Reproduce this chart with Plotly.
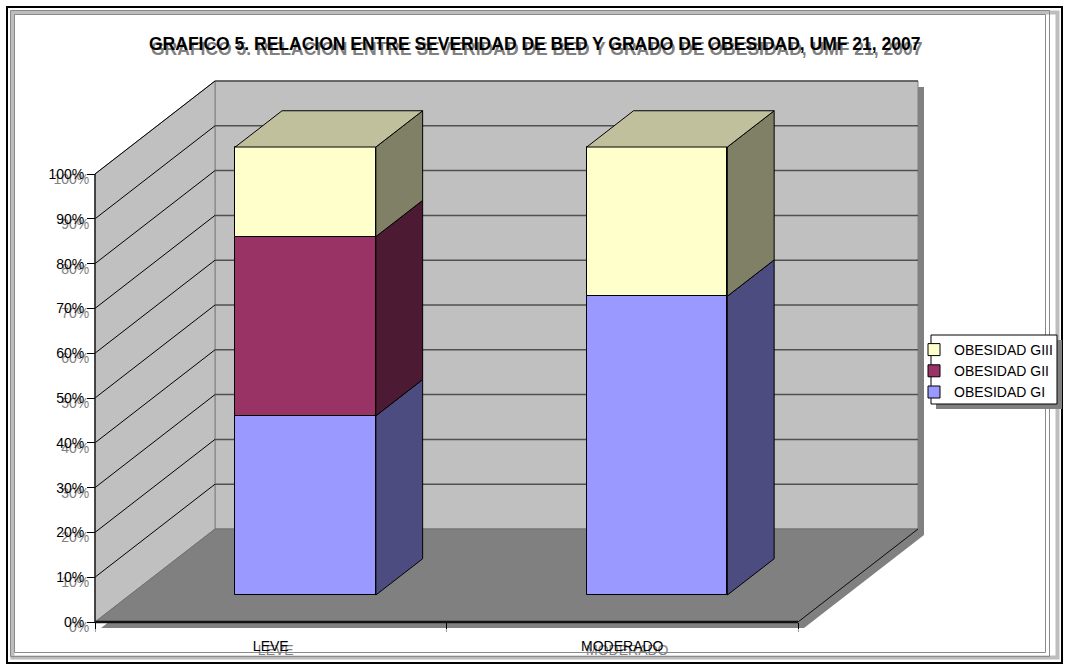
import plotly.graph_objects as go

# ---------------- data ----------------
categories = ["LEVE", "MODERADO"]
series_names = ["OBESIDAD GI", "OBESIDAD GII", "OBESIDAD GIII"]
obesidad_gi = [40.0, 66.7]
obesidad_gii = [40.0, 0.0]
obesidad_giii = [20.0, 33.3]
y_tick_values = [0, 10, 20, 30, 40, 50, 60, 70, 80, 90, 100]
y_tick_labels = ["0%", "10%", "20%", "30%", "40%", "50%", "60%", "70%", "80%", "90%", "100%"]
title_text = "GRAFICO 5. RELACION ENTRE SEVERIDAD DE BED Y GRADO DE OBESIDAD, UMF 21, 2007"

# ---------------- styles / layout constants ----------------
front_colors = ["#9999FF", "#993366", "#FFFFCC"]
side_colors = ["#4C4C80", "#4D1A33", "#808066"]
top_color = "#C0C09C"
wall_color = "#C0C0C0"
floor_color = "#808080"
shadow_color = "#808080"
FONT = "Arial, Liberation Sans, sans-serif"

W, H = 1065, 672
L, R, T, B = 88, 932, 70, 630          # plot-area pixel frame
X0PX, Y0PX = 95, 622                    # pixel of (x=-0.5, y=0) on the front plane
PXX, PXY = 351.5, 4.48                  # px per category unit / per percent
DX, DY = 120 / PXX, 93 / PXY            # oblique depth offset (full depth)
D0, D1 = 0.29, 0.68                     # bar depth span
HALF = 0.2                              # half bar width

x_range = [-0.5 - (X0PX - L) / PXX, -0.5 + (R - X0PX) / PXX]
y_range = [-(B - Y0PX) / PXY, (Y0PX - T) / PXY]


def P(x, y, d):
    return x + d * DX, y + d * DY


def px_x(px):
    return (px - L) / (R - L)


def px_y(py):
    return (B - py) / (B - T)


def path(pts, sx=0.0, sy=0.0):
    return "M " + " L ".join(f"{x + sx},{y + sy}" for x, y in pts) + " Z"


xs = list(range(len(categories)))
xlo, xhi = xs[0] - 0.5, xs[-1] + 0.5
ymax = y_tick_values[-1]

shapes = []
sh_x, sh_y = 6 / PXX, -6 / PXY
back = [P(xlo, 0, 1), P(xhi, 0, 1), P(xhi, ymax, 1), P(xlo, ymax, 1)]
floor = [P(xlo, 0, 0), P(xhi, 0, 0), P(xhi, 0, 1), P(xlo, 0, 1)]
left = [P(xlo, 0, 0), P(xlo, ymax, 0), P(xlo, ymax, 1), P(xlo, 0, 1)]
# shadows
shapes.append(dict(type="path", path=path(back, sh_x, sh_y), fillcolor=shadow_color,
                   line=dict(width=0), layer="below"))
shapes.append(dict(type="path", path=path(floor, sh_x, sh_y), fillcolor=shadow_color,
                   line=dict(width=0), layer="below"))
# walls
shapes.append(dict(type="path", path=path(back), fillcolor=wall_color,
                   line=dict(color="#808080", width=1), layer="below"))
shapes.append(dict(type="path", path=path(left), fillcolor=wall_color,
                   line=dict(color="#808080", width=1), layer="below"))
shapes.append(dict(type="path", path=path(floor), fillcolor=floor_color,
                   line=dict(color="#707070", width=1), layer="below"))
# gridlines
for v in y_tick_values[1:]:
    a, b = P(xlo, v, 1), P(xhi, v, 1)
    shapes.append(dict(type="line", x0=a[0], y0=a[1], x1=b[0], y1=b[1],
                       line=dict(color="#505050", width=1.5), layer="below"))
    a, b = P(xlo, v, 0), P(xlo, v, 1)
    shapes.append(dict(type="line", x0=a[0], y0=a[1], x1=b[0], y1=b[1],
                       line=dict(color="#000000", width=1), layer="below"))
# edges
a, b = P(xlo, 0, 0), P(xhi, 0, 0)
shapes.append(dict(type="line", x0=a[0], y0=a[1], x1=b[0], y1=b[1],
                   line=dict(color="#111111", width=2.5), layer="below"))
a, b = P(xhi, 0, 0), P(xhi, 0, 1)
shapes.append(dict(type="line", x0=a[0], y0=a[1], x1=b[0], y1=b[1],
                   line=dict(color="#111111", width=1), layer="below"))
a, b = P(xlo, 0, 0), P(xlo, ymax, 0)
shapes.append(dict(type="line", x0=a[0], y0=a[1], x1=b[0], y1=b[1],
                   line=dict(color="#222222", width=1.5), layer="below"))

# legend box with shadow (paper coords)
LB = (931, 1057, 335, 404)
shapes.append(dict(type="rect", xref="paper", yref="paper",
                   x0=px_x(LB[0] + 5), x1=px_x(LB[1] + 5), y0=px_y(LB[2] + 5), y1=px_y(LB[3] + 5),
                   fillcolor=shadow_color, line=dict(width=0), layer="above"))
shapes.append(dict(type="rect", xref="paper", yref="paper",
                   x0=px_x(LB[0]), x1=px_x(LB[1]), y0=px_y(LB[2]), y1=px_y(LB[3]),
                   fillcolor="white", line=dict(color="#000000", width=1), layer="above"))
# outer frame
shapes.append(dict(type="rect", xref="paper", yref="paper",
                   x0=px_x(12.5), x1=px_x(1057.5), y0=px_y(12.5), y1=px_y(657.5),
                   line=dict(color="#BDBDBD", width=4), layer="below"))
for off in (10.5, 14.5):
    shapes.append(dict(type="rect", xref="paper", yref="paper",
                       x0=px_x(off), x1=px_x(W - 5 - off), y0=px_y(off), y1=px_y(H - 5 - off),
                       line=dict(color="#8A8A8A", width=1), layer="below"))
shapes.append(dict(type="rect", xref="paper", yref="paper",
                   x0=px_x(7), x1=px_x(1062), y0=px_y(7), y1=px_y(663),
                   line=dict(color="#000000", width=2), layer="below"))

fig = go.Figure()

series_vals = [obesidad_gi, obesidad_gii, obesidad_giii]
cum = [0.0] * len(categories)
faces = []
for s, vals in enumerate(series_vals):
    fig.add_trace(go.Bar(
        x=[c + D0 * DX for c in xs], y=vals, base=[b + D0 * DY for b in cum],
        width=2 * HALF, name=series_names[s],
        marker=dict(color=front_colors[s], line=dict(color="#000000", width=1)),
        hoverinfo="skip"))
    for i, v in enumerate(vals):
        if v <= 0:
            continue
        yb, yt = cum[i], cum[i] + v
        xr_ = xs[i] + HALF
        xl_ = xs[i] - HALF
        side = [P(xr_, yb, D0), P(xr_, yb, D1), P(xr_, yt, D1), P(xr_, yt, D0), P(xr_, yb, D0)]
        faces.append((side, side_colors[s]))
        if s == len(series_vals) - 1 or all(sv[i] == 0 for sv in series_vals[s + 1:]):
            top = [P(xl_, yt, D0), P(xr_, yt, D0), P(xr_, yt, D1), P(xl_, yt, D1), P(xl_, yt, D0)]
            faces.append((top, top_color))
    cum = [c + v for c, v in zip(cum, vals)]

for pts, col in faces:
    fig.add_trace(go.Scatter(
        x=[p[0] for p in pts], y=[p[1] for p in pts], mode="lines", fill="toself",
        fillcolor=col, line=dict(color="#000000", width=1), showlegend=False,
        hoverinfo="skip"))

fig.add_trace(go.Scatter(x=[None], y=[None], xaxis="x2", yaxis="y2",
                         showlegend=False, hoverinfo="skip"))

ypos = px_x(X0PX)
xpos = px_y(Y0PX)
common_x = dict(range=x_range, showgrid=False, zeroline=False, showline=False,
                tickmode="array", tickvals=xs, ticktext=categories,
                anchor="free", position=xpos, fixedrange=True)
common_y = dict(range=y_range, showgrid=False, zeroline=False, showline=False,
                tickmode="array", tickvals=y_tick_values, ticktext=y_tick_labels,
                anchor="free", position=ypos, side="left", fixedrange=True)

annotations = []
tx, ty = px_x(534), px_y(44)
for col, xsh, ysh in (("#808080", 2, -5), ("#000000", 0, 0)):
    annotations.append(dict(text=f"<b>{title_text}</b>", xref="paper", yref="paper", x=tx, y=ty,
                            xanchor="center", yanchor="middle", xshift=xsh, yshift=ysh,
                            showarrow=False, font=dict(family=FONT, size=17.5, color=col)))

minor_vals = [xlo + k for k in range(len(xs) + 1)]
fig.update_layout(
    width=W, height=H, margin=dict(l=L, r=W - R, t=T, b=H - B, autoexpand=False),
    paper_bgcolor="white", plot_bgcolor="rgba(0,0,0,0)",
    barmode="overlay", bargap=0,
    shapes=shapes, annotations=annotations,
    xaxis=dict(**common_x, ticks="", ticklabelshift=5, ticklabelstandoff=18,
               tickfont=dict(family=FONT, size=14, color="#808080"),
               minor=dict(tickmode="array", tickvals=minor_vals,
                          ticks="outside", ticklen=9, tickcolor="#A0A0A0")),
    yaxis=dict(**common_y, ticks="outside", ticklen=3, tickcolor="#808080",
               ticklabelshift=5, tickfont=dict(family=FONT, size=14, color="#808080")),
    xaxis2=dict(**common_x, overlaying="x", ticks="", ticklabelstandoff=14,
                tickfont=dict(family=FONT, size=14, color="#000000"),
                minor=dict(tickmode="array", tickvals=minor_vals,
                           ticks="outside", ticklen=6, tickcolor="#000000")),
    yaxis2=dict(**common_y, overlaying="y", ticks="outside", ticklen=8, tickcolor="#000000",
                tickfont=dict(family=FONT, size=14, color="#000000")),
    legend=dict(x=px_x(926), y=px_y(334), xanchor="left", yanchor="top",
                traceorder="reversed", bgcolor="rgba(0,0,0,0)", borderwidth=0,
                font=dict(family=FONT, size=14, color="#000000"), indentation=-12,
                tracegroupgap=0),
    showlegend=True,
)

fig.write_html("out.html")
